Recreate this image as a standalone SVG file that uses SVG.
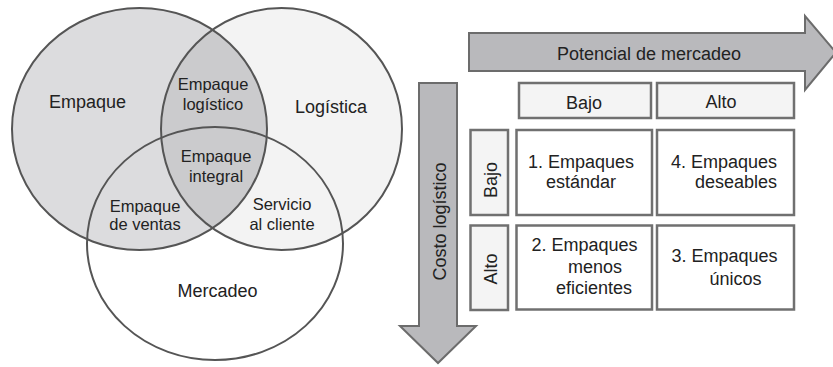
<svg xmlns="http://www.w3.org/2000/svg" width="833" height="367" viewBox="0 0 833 367">
<defs>
<style>
text{font-family:"Liberation Sans",Arial,sans-serif;fill:#222;}
.big{font-size:18px;}
.mid{font-size:16.5px;}
.cell{font-size:18px;}
.c{text-anchor:middle;}
.venn{fill:none;stroke:#555;stroke-width:2;}
.arrow{fill:#b9b9bc;stroke:#6c6c6c;stroke-width:2;}
.hdr{fill:#f4f4f4;stroke:#707070;stroke-width:2.5;}
.box{fill:#fff;stroke:#707070;stroke-width:2.5;}
</style>
<clipPath id="clipLeft"><ellipse cx="139.5" cy="129" rx="127.5" ry="121"/></clipPath>
</defs>
<rect width="833" height="367" fill="#fff"/>

<g id="venn-fills">
<ellipse cx="215" cy="243.5" rx="128" ry="116.5" fill="#fff"/>
<ellipse cx="139.5" cy="129" rx="127.5" ry="121" fill="#dcdcde"/>
<ellipse cx="281.5" cy="129" rx="120.5" ry="121" fill="#f3f3f3"/>
<ellipse cx="281.5" cy="129" rx="120.5" ry="121" fill="#cbcbcd" clip-path="url(#clipLeft)"/>
</g>

<g id="empaque">
<ellipse class="venn" cx="139.5" cy="129" rx="127.5" ry="121"/>
<text class="big c" x="87.5" y="108">Empaque</text>
</g>
<g id="logistica">
<ellipse class="venn" cx="281.5" cy="129" rx="120.5" ry="121"/>
<text class="big c" x="331" y="113">Logística</text>
</g>
<g id="mercadeo">
<ellipse class="venn" cx="215" cy="243.5" rx="128" ry="116.5"/>
<text class="big c" x="217.5" y="296.5">Mercadeo</text>
</g>
<g id="empaque-logistico">
<text class="mid c" x="213" y="90">Empaque</text>
<text class="mid c" x="213" y="109.5">logístico</text>
</g>
<g id="empaque-integral">
<text class="mid c" x="216" y="161.5">Empaque</text>
<text class="mid c" x="216" y="181.5">integral</text>
</g>
<g id="empaque-ventas">
<text class="mid c" x="145" y="211.5">Empaque</text>
<text class="mid c" x="145" y="229.5">de ventas</text>
</g>
<g id="servicio-cliente">
<text class="mid c" x="282" y="210">Servicio</text>
<text class="mid c" x="282" y="229.5">al cliente</text>
</g>

<g id="connectors">
<path id="arrow-potencial" class="arrow" d="M469,33 L805,33 L805,16 L836,52.5 L805,90 L805,71 L469,71 Z"/>
<path id="arrow-costo" class="arrow" d="M419,83 L457,83 L457,326 L476,326 L438,363 L400,326 L419,326 Z"/>
</g>

<g id="label-potencial">
<text class="big c" x="649" y="60">Potencial de mercadeo</text>
</g>
<g id="label-costo">
<text class="big c" transform="translate(446,221.5) rotate(-90)">Costo logístico</text>
</g>

<g id="col-bajo">
<rect class="hdr" x="519" y="83" width="132" height="35"/>
<text class="big c" x="584" y="108.5">Bajo</text>
</g>
<g id="col-alto">
<rect class="hdr" x="657" y="83" width="137" height="35"/>
<text class="big c" x="721" y="107.5">Alto</text>
</g>
<g id="row-bajo">
<rect class="hdr" x="470.5" y="130" width="37.5" height="85"/>
<text class="big c" transform="translate(496.5,180) rotate(-90)">Bajo</text>
</g>
<g id="row-alto">
<rect class="hdr" x="470.5" y="225.5" width="37.5" height="84.5"/>
<text class="big c" transform="translate(496.5,269) rotate(-90)">Alto</text>
</g>

<g id="cell-1">
<rect class="box" x="516.5" y="130" width="135.5" height="85"/>
<text class="cell c" x="581" y="168">1. Empaques</text>
<text class="cell c" x="581" y="188">estándar</text>
</g>
<g id="cell-4">
<rect class="box" x="657" y="130" width="137" height="85"/>
<text class="cell c" x="724" y="168">4. Empaques</text>
<text class="cell c" x="736" y="188">deseables</text>
</g>
<g id="cell-2">
<rect class="box" x="516.5" y="225.5" width="135.5" height="84"/>
<text class="cell c" x="584.5" y="251">2. Empaques</text>
<text class="cell c" x="595" y="272.5">menos</text>
<text class="cell c" x="594" y="294">eficientes</text>
</g>
<g id="cell-3">
<rect class="box" x="657" y="225.5" width="137" height="84"/>
<text class="cell c" x="724.5" y="262">3. Empaques</text>
<text class="cell c" x="735.5" y="285">únicos</text>
</g>
</svg>
